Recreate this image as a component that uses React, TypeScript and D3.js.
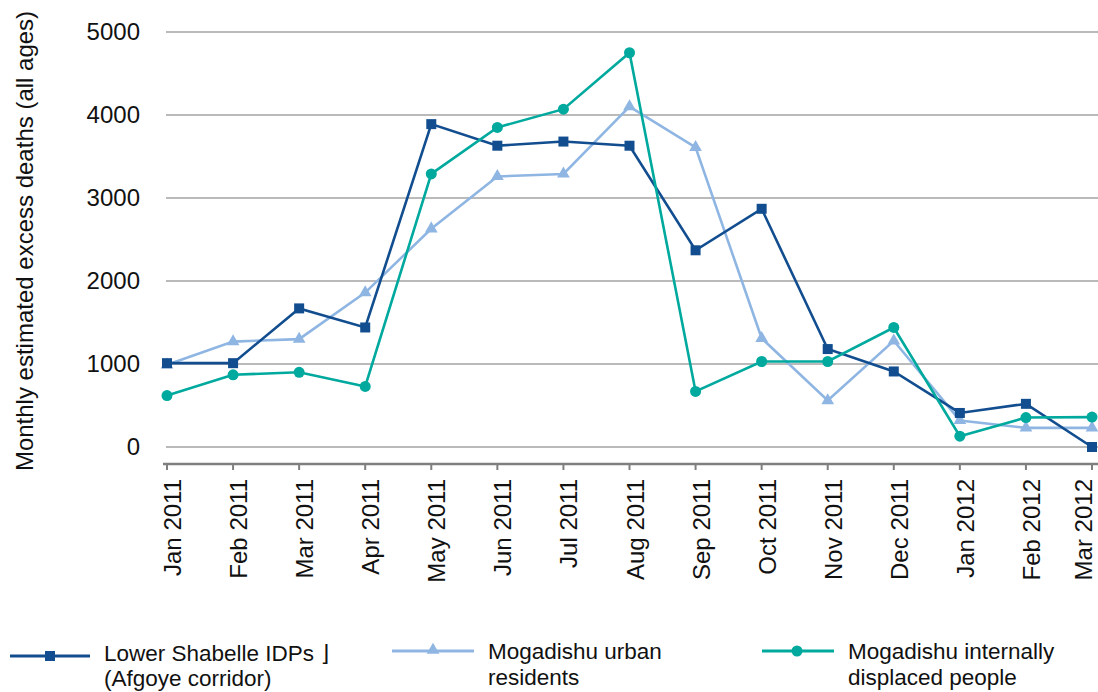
import React from "react";
import * as d3 from "d3";

const months = [
  "Jan 2011", "Feb 2011", "Mar 2011", "Apr 2011", "May 2011", "Jun 2011", "Jul 2011",
  "Aug 2011", "Sep 2011", "Oct 2011", "Nov 2011", "Dec 2011", "Jan 2012", "Feb 2012", "Mar 2012",
];
const lowerShabelle = [1010, 1010, 1670, 1440, 3890, 3630, 3680, 3630, 2370, 2870, 1180, 910, 410, 520, 0];
const mogadishuUrban = [990, 1270, 1300, 1860, 2630, 3260, 3290, 4100, 3610, 1310, 560, 1280, 320, 230, 230];
const mogadishuIDP = [620, 870, 900, 730, 3290, 3850, 4070, 4750, 670, 1030, 1030, 1440, 130, 355, 360];
const yTicks = [0, 1000, 2000, 3000, 4000, 5000];
const yLabel = "Monthly estimated excess deaths (all ages)";

const C_DARK = "#124e8f";
const C_LIGHT = "#8fb6e3";
const C_TEAL = "#00a99e";
const FONT = "'Liberation Sans', Arial, sans-serif";

export default function App() {
  const W = 1098, H = 692;
  const x = d3.scalePoint<string>().domain(months).range([167, 1092]);
  const y = d3.scaleLinear().domain([0, 5000]).range([447, 32]);
  const line = d3.line<number>().x((_, i) => x(months[i])!).y((d) => y(d));

  const tri = d3.symbol().type(d3.symbolTriangle).size(70)();

  return (
    <svg width={W} height={H} style={{ position: "absolute", left: 0, top: 0 }} fontFamily={FONT}>
      <rect width={W} height={H} fill="#fff" />
      {/* gridlines */}
      {yTicks.map((t) => (
        <line key={t} x1={166} x2={W} y1={y(t)} y2={y(t)} stroke="#a3a3a3" strokeWidth={1.6} />
      ))}
      {yTicks.map((t) => (
        <text key={"l" + t} x={140} y={y(t) + 8} textAnchor="end" fontSize={24} fill="#111">
          {t}
        </text>
      ))}
      {/* x axis */}
      <line x1={163} x2={W} y1={464} y2={464} stroke="#7f7f7f" strokeWidth={2.5} />
      {months.map((m) => (
        <g key={m}>
          <line x1={x(m)} x2={x(m)} y1={464} y2={470} stroke="#7f7f7f" strokeWidth={2} />
          <text
            transform={`translate(${Math.min(x(m)! + 14, W - 6)},479) rotate(-90)`}
            textAnchor="end"
            fontSize={24}
            fill="#111"
          >
            {m}
          </text>
        </g>
      ))}
      <text transform="translate(33,241) rotate(-90)" textAnchor="middle" fontSize={24} fill="#111">
        {yLabel}
      </text>
      {/* series */}
      <path d={line(mogadishuUrban)!} fill="none" stroke={C_LIGHT} strokeWidth={2.6} />
      <path d={line(lowerShabelle)!} fill="none" stroke={C_DARK} strokeWidth={2.6} />
      <path d={line(mogadishuIDP)!} fill="none" stroke={C_TEAL} strokeWidth={2.6} />
      {mogadishuUrban.map((v, i) => (
        <path key={"u" + i} d={tri!} transform={`translate(${x(months[i])},${y(v)})`} fill={C_LIGHT} />
      ))}
      {lowerShabelle.map((v, i) => (
        <rect key={"s" + i} x={x(months[i])! - 5} y={y(v) - 5} width={10} height={10} fill={C_DARK} />
      ))}
      {mogadishuIDP.map((v, i) => (
        <circle key={"c" + i} cx={x(months[i])} cy={y(v)} r={5.5} fill={C_TEAL} />
      ))}
      {/* legend */}
      <g fontSize={22.5} fill="#111">
        <line x1={10} x2={90} y1={656} y2={656} stroke={C_DARK} strokeWidth={3} />
        <rect x={45} y={651} width={10} height={10} fill={C_DARK} />
        <text x={104} y={661}>
          Lower Shabelle IDPs <tspan fontFamily="'DejaVu Sans', sans-serif">⌋</tspan>
        </text>
        <text x={104} y={686}>(Afgoye corridor)</text>

        <line x1={392} x2={474} y1={651} y2={651} stroke={C_LIGHT} strokeWidth={3} />
        <path d={tri!} transform="translate(433,650)" fill={C_LIGHT} />
        <text x={488} y={659}>Mogadishu urban</text>
        <text x={488} y={685}>residents</text>

        <line x1={762} x2={834} y1={651} y2={651} stroke={C_TEAL} strokeWidth={3} />
        <circle cx={797} cy={651} r={5.5} fill={C_TEAL} />
        <text x={848} y={659}>Mogadishu internally</text>
        <text x={848} y={685}>displaced people</text>
      </g>
    </svg>
  );
}
